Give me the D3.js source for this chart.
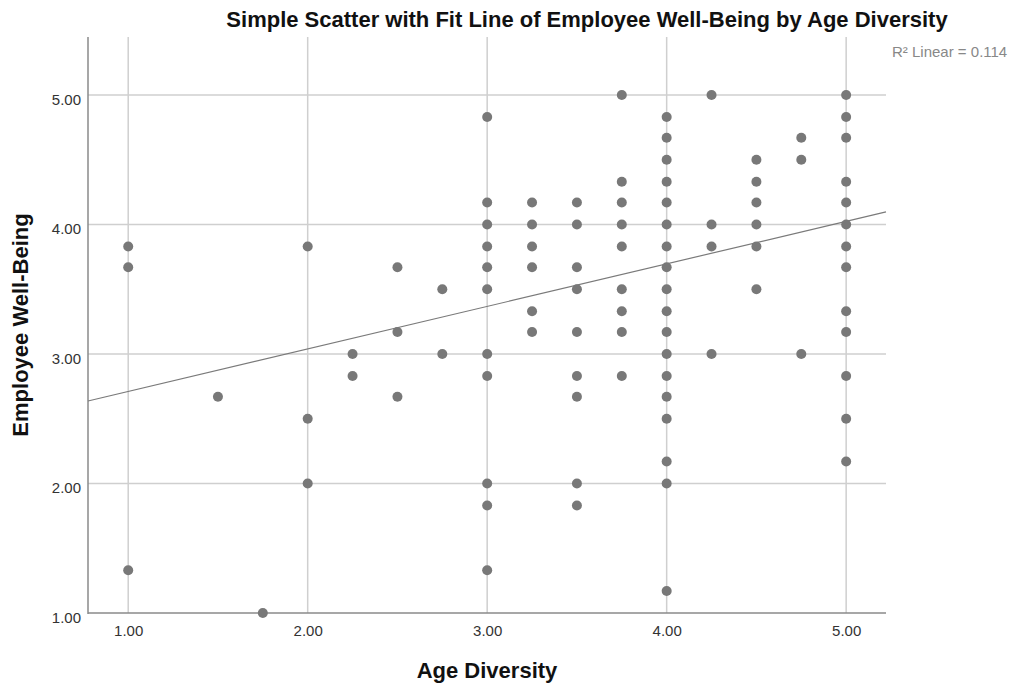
<!DOCTYPE html>
<html>
<head>
<meta charset="utf-8">
<script src="https://cdn.jsdelivr.net/npm/d3@7"></script>
<style>
  html, body { margin: 0; padding: 0; background: #fff; }
  svg { display: block; font-family: "Liberation Sans", Arial, sans-serif; }
</style>
</head>
<body>
<svg id="chart" width="1011" height="684"></svg>
<script>
// ---- Data ----
const ageDiversity = [
  1.00, 1.00, 1.00,
  1.50,
  1.75,
  2.00, 2.00, 2.00,
  2.25, 2.25,
  2.50, 2.50, 2.50,
  2.75, 2.75,
  3.00, 3.00, 3.00, 3.00, 3.00, 3.00, 3.00, 3.00, 3.00, 3.00, 3.00,
  3.25, 3.25, 3.25, 3.25, 3.25, 3.25,
  3.50, 3.50, 3.50, 3.50, 3.50, 3.50, 3.50, 3.50, 3.50,
  3.75, 3.75, 3.75, 3.75, 3.75, 3.75, 3.75, 3.75, 3.75,
  4.00, 4.00, 4.00, 4.00, 4.00, 4.00, 4.00, 4.00, 4.00, 4.00, 4.00, 4.00, 4.00, 4.00, 4.00, 4.00, 4.00, 4.00,
  4.25, 4.25, 4.25, 4.25,
  4.50, 4.50, 4.50, 4.50, 4.50, 4.50,
  4.75, 4.75, 4.75,
  5.00, 5.00, 5.00, 5.00, 5.00, 5.00, 5.00, 5.00, 5.00, 5.00, 5.00, 5.00, 5.00
];
const wellBeing = [
  3.83, 3.67, 1.33,
  2.67,
  1.00,
  3.83, 2.50, 2.00,
  3.00, 2.83,
  3.67, 3.17, 2.67,
  3.50, 3.00,
  4.83, 4.17, 4.00, 3.83, 3.67, 3.50, 3.00, 2.83, 2.00, 1.83, 1.33,
  4.17, 4.00, 3.83, 3.67, 3.33, 3.17,
  4.17, 4.00, 3.67, 3.50, 3.17, 2.83, 2.67, 2.00, 1.83,
  5.00, 4.33, 4.17, 4.00, 3.83, 3.50, 3.33, 3.17, 2.83,
  4.83, 4.67, 4.50, 4.33, 4.17, 4.00, 3.83, 3.67, 3.50, 3.33, 3.17, 3.00, 2.83, 2.67, 2.50, 2.17, 2.00, 1.17,
  5.00, 4.00, 3.83, 3.00,
  4.50, 4.33, 4.17, 4.00, 3.83, 3.50,
  4.67, 4.50, 3.00,
  5.00, 4.83, 4.67, 4.33, 4.17, 4.00, 3.83, 3.67, 3.33, 3.17, 2.83, 2.50, 2.17
];
const xTicks = [1, 2, 3, 4, 5];
const yTicks = [1, 2, 3, 4, 5];
const fitIntercept = 2.382;
const fitSlope = 0.3285;
const rSquaredLabel = "R\u00B2 Linear = 0.114";
const titleText = "Simple Scatter with Fit Line of Employee Well-Being by Age Diversity";
const xTitle = "Age Diversity";
const yTitle = "Employee Well-Being";

// ---- Layout ----
const svg = d3.select("#chart");
const plotL = 88, plotR = 886, plotT = 37, plotB = 613;

const x = d3.scaleLinear().domain([0.776, 5.222]).range([plotL, plotR]);
const y = d3.scaleLinear().domain([1, 5]).range([plotB, 95]);
const gridColor = "#cfcfcf";
const axisColor = "#8a8a8a";
const font = "Liberation Sans, Arial, sans-serif";

// grid lines
svg.append("g").selectAll("line").data(xTicks).join("line")
  .attr("x1", d => x(d)).attr("x2", d => x(d))
  .attr("y1", plotT).attr("y2", plotB)
  .attr("stroke", gridColor).attr("stroke-width", 1.5);
svg.append("g").selectAll("line").data(yTicks.filter(d => d > 1)).join("line")
  .attr("x1", plotL).attr("x2", plotR)
  .attr("y1", d => y(d)).attr("y2", d => y(d))
  .attr("stroke", gridColor).attr("stroke-width", 1.5);

// axes (labels only, no tick marks)
const xAxis = d3.axisBottom(x).tickValues(xTicks).tickFormat(d3.format(".2f")).tickSize(0);
const yAxis = d3.axisLeft(y).tickValues(yTicks).tickFormat(d3.format(".2f")).tickSize(0).tickPadding(7);

const gx = svg.append("g").attr("transform", `translate(0,${plotB})`).call(xAxis);
gx.select(".domain").remove();
gx.selectAll("text").attr("font-size", 15).attr("fill", "#333").attr("font-family", font)
  .attr("y", 23).attr("dy", null);

const gy = svg.append("g").attr("transform", `translate(${plotL},0)`).call(yAxis);
gy.select(".domain").remove();
gy.selectAll("text").attr("font-size", 15).attr("fill", "#333").attr("font-family", font)
  .attr("dy", 9);

// axis lines
svg.append("line").attr("x1", plotL).attr("x2", plotL).attr("y1", plotT).attr("y2", plotB + 1)
  .attr("stroke", axisColor).attr("stroke-width", 1.5);
svg.append("line").attr("x1", plotL).attr("x2", plotR).attr("y1", plotB).attr("y2", plotB)
  .attr("stroke", axisColor).attr("stroke-width", 1.5);

// fit line
const xd = x.domain();
svg.append("line")
  .attr("x1", x(xd[0])).attr("y1", y(fitIntercept + fitSlope * xd[0]))
  .attr("x2", x(xd[1])).attr("y2", y(fitIntercept + fitSlope * xd[1]))
  .attr("stroke", "#7a7a7a").attr("stroke-width", 1.2);

// points
const pts = ageDiversity.map((a, i) => ({ a, w: wellBeing[i] }));
svg.append("g").selectAll("circle").data(pts).join("circle")
  .attr("cx", d => x(d.a)).attr("cy", d => y(d.w))
  .attr("r", 5).attr("fill", "#787878");

// texts
svg.append("text").attr("x", 587).attr("y", 27).attr("text-anchor", "middle")
  .attr("font-size", 22).attr("font-weight", "bold").attr("fill", "#111").text(titleText);
svg.append("text").attr("x", 487).attr("y", 678).attr("text-anchor", "middle")
  .attr("font-size", 22).attr("font-weight", "bold").attr("fill", "#111").text(xTitle);
svg.append("text").attr("transform", `translate(28,325) rotate(-90)`).attr("text-anchor", "middle")
  .attr("font-size", 22).attr("font-weight", "bold").attr("fill", "#111").text(yTitle);
svg.append("text").attr("x", 892).attr("y", 57)
  .attr("font-size", 15).attr("fill", "#888").text(rSquaredLabel);
</script>
</body>
</html>
